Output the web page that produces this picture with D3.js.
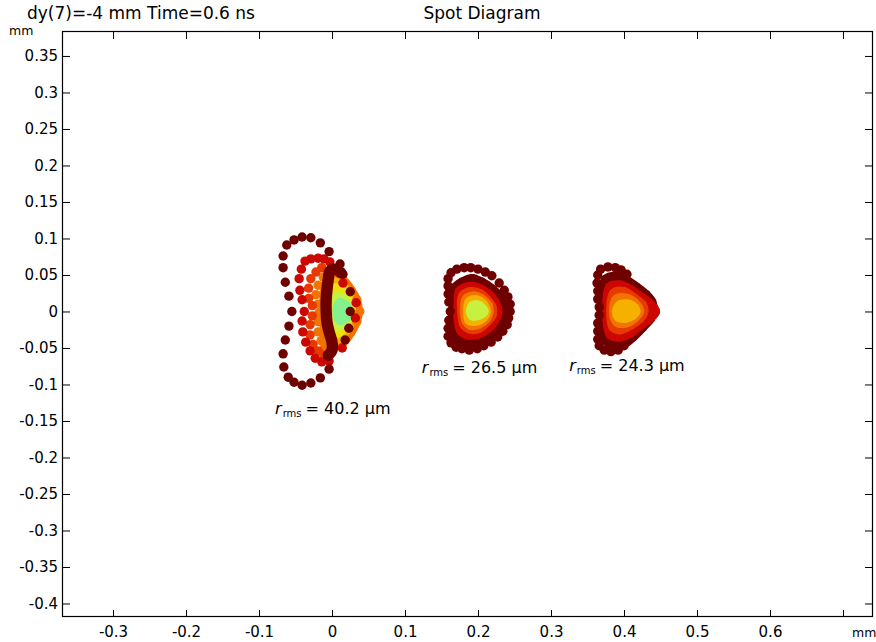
<!DOCTYPE html>
<html>
<head>
<meta charset="utf-8">
<script src="https://cdn.jsdelivr.net/npm/d3@7"></script>
<style>
  body { margin: 0; background: #fff; }
  text { font-family: "DejaVu Sans", sans-serif; fill: #000; }
</style>
</head>
<body>
<svg id="chart" width="876" height="642"></svg>
<script>
// Axis ticks (mm)
const xTicks = [-0.3, -0.2, -0.1, 0, 0.1, 0.2, 0.3, 0.4, 0.5, 0.6, 0.7];
const xTickLabels = ["-0.3", "-0.2", "-0.1", "0", "0.1", "0.2", "0.3", "0.4", "0.5", "0.6", ""];
const yTicks = [0.35, 0.3, 0.25, 0.2, 0.15, 0.1, 0.05, 0, -0.05, -0.1, -0.15, -0.2, -0.25, -0.3, -0.35, -0.4];
const yTickLabels = ["0.35", "0.3", "0.25", "0.2", "0.15", "0.1", "0.05", "0", "-0.05", "-0.1", "-0.15", "-0.2", "-0.25", "-0.3", "-0.35", "-0.4"];

// Spot 1 (dy = -4 mm, field 1) -- ray hits [x, y] in mm
const spot1Ring0 = [[-0.004,0.082],[-0.016,0.094],[-0.029,0.101],[-0.041,0.102],[-0.052,0.098],[-0.062,0.091],[-0.067,0.076],[-0.067,0.060],[-0.064,0.040],[-0.059,0.021],[-0.055,0.000],[-0.059,-0.020],[-0.064,-0.039],[-0.067,-0.058],[-0.066,-0.076],[-0.060,-0.090],[-0.052,-0.097],[-0.041,-0.101],[-0.029,-0.098],[-0.016,-0.091],[-0.004,-0.079],
  [0.011,0.065],[0.015,0.051],[0.025,0.027],[0.025,0.000],[0.023,-0.023],[0.018,-0.039]];
const spot1Ring1 = [[-0.003,0.068],[-0.011,0.072],[-0.019,0.073],[-0.029,0.072],[-0.037,0.069],[-0.042,0.058],[-0.045,0.045],[-0.044,0.029],[-0.041,0.016],[-0.038,0.000],[-0.041,-0.013],[-0.040,-0.028],[-0.036,-0.042],[-0.030,-0.054],[-0.023,-0.064],[-0.014,-0.069],[-0.004,-0.068],
  [0.033,0.012],[0.032,-0.009],[0.014,-0.050],[0.015,0.039]];
const spot1Ring2 = [[-0.014,0.060],[-0.022,0.054],[-0.029,0.045],[-0.032,0.032],[-0.032,0.018],[-0.027,0.008],[-0.027,-0.006],[-0.030,-0.018],[-0.030,-0.032],[-0.026,-0.045],[-0.019,-0.054],[-0.011,-0.060]];
const spot1Ring3 = [[-0.012,0.047],[-0.019,0.036],[-0.022,0.023],[-0.019,0.010],[-0.018,-0.002],[-0.019,-0.014],[-0.019,-0.028],[-0.015,-0.040],[-0.010,-0.049],
  [0.034,0.016],[0.038,0.000],[0.034,-0.014]];
const spot1Caustic = [[0.012,0.053],[0.004,0.058],[-0.003,0.055],[-0.005,0.045],[-0.007,0.029],[-0.008,0.016],[-0.008,0.000],[-0.007,-0.014],[-0.004,-0.028],[0.000,-0.042],[0.000,-0.053],[-0.005,-0.060]];
const spot1Core3 = [[0.003,0.049],[0.015,0.043],[0.026,0.029],[0.033,0.016],[0.036,0.000],[0.033,-0.014],[0.026,-0.028],[0.015,-0.042],[0.003,-0.047],[-0.008,-0.036],[-0.011,0.000],[-0.008,0.038]];
const spot1Core4 = [[0.003,0.040],[0.014,0.035],[0.023,0.023],[0.029,0.000],[0.023,-0.020],[0.014,-0.032],[0.003,-0.039],[-0.004,-0.012],[-0.004,0.013]];
const spot1Core5 = [[0.005,0.032],[0.016,0.025],[0.025,0.012],[0.026,0.000],[0.023,-0.012],[0.015,-0.024],[0.005,-0.030],[0.000,-0.012],[0.000,0.013]];
const spot1Core6 = [[0.007,0.021],[0.018,0.016],[0.023,0.000],[0.018,-0.014],[0.007,-0.020],[0.003,0.000]];
const spot1Core7 = [[0.011,0.012],[0.019,0.008],[0.022,0.000],[0.019,-0.008],[0.011,-0.012],[0.007,0.000]];

// Spot 2 (field 2)
const spot2Ring0 = [[0.163,0.053],[0.171,0.058],[0.181,0.060],[0.190,0.060],[0.200,0.058],[0.210,0.054],[0.219,0.049],[0.229,0.039],[0.236,0.029],[0.241,0.020],[0.244,0.010],[0.244,0.000],[0.242,-0.009],[0.240,-0.018],[0.234,-0.027],[0.227,-0.035],[0.218,-0.042],[0.208,-0.047],[0.199,-0.051],[0.188,-0.053],[0.178,-0.051],[0.170,-0.049],[0.163,-0.043],[0.159,-0.034],[0.159,-0.023],[0.160,-0.012],[0.162,0.000],[0.160,0.013],[0.159,0.024],[0.159,0.035],[0.159,0.045]];
const spot2Core0 = [[0.168,0.032],[0.178,0.040],[0.192,0.045],[0.205,0.040],[0.219,0.031],[0.230,0.020],[0.237,0.009],[0.238,0.000],[0.234,-0.013],[0.226,-0.025],[0.214,-0.035],[0.200,-0.042],[0.185,-0.043],[0.173,-0.038],[0.167,-0.027],[0.166,-0.009],[0.166,0.010],[0.166,0.024]];
const spot2Core1 = [[0.175,0.028],[0.188,0.034],[0.201,0.032],[0.214,0.024],[0.223,0.013],[0.227,0.000],[0.223,-0.012],[0.214,-0.023],[0.200,-0.031],[0.186,-0.032],[0.177,-0.027],[0.173,-0.012],[0.173,0.013]];
const spot2Core2 = [[0.179,0.021],[0.190,0.027],[0.203,0.024],[0.212,0.016],[0.219,0.006],[0.219,-0.005],[0.212,-0.014],[0.201,-0.023],[0.189,-0.024],[0.181,-0.018],[0.178,0.000]];
const spot2Core3 = [[0.184,0.017],[0.195,0.021],[0.205,0.017],[0.214,0.008],[0.215,0.000],[0.211,-0.010],[0.201,-0.017],[0.190,-0.019],[0.184,-0.013],[0.182,0.000]];
const spot2Core4 = [[0.188,0.013],[0.197,0.016],[0.207,0.010],[0.211,0.000],[0.207,-0.008],[0.197,-0.013],[0.188,-0.012],[0.186,0.000]];
const spot2Core6 = [[0.193,0.008],[0.201,0.008],[0.208,0.000],[0.201,-0.005],[0.193,-0.006],[0.190,0.000]];

// Spot 3 (field 3)
const spot3Ring0 = [[0.368,0.058],[0.378,0.061],[0.388,0.060],[0.396,0.057],[0.404,0.051],
  [0.364,0.050],[0.363,0.039],[0.364,0.028],[0.364,0.017],[0.366,0.006],[0.366,-0.005],[0.364,-0.016],[0.364,-0.027],[0.364,-0.038],[0.366,-0.047],
  [0.373,-0.053],[0.382,-0.055],[0.392,-0.053],[0.400,-0.047]];
const spot3Core0 = [[0.375,0.044],[0.389,0.048],[0.403,0.043],[0.416,0.034],[0.430,0.023],[0.438,0.013],[0.440,0.000],[0.436,-0.010],[0.426,-0.021],[0.412,-0.035],[0.399,-0.045],[0.385,-0.046],[0.375,-0.039],[0.371,-0.024],[0.371,0.000],[0.371,0.029]];
const spot3Core1 = [[0.381,0.034],[0.395,0.036],[0.410,0.029],[0.423,0.020],[0.436,0.010],[0.443,0.000],[0.436,-0.009],[0.423,-0.018],[0.408,-0.030],[0.392,-0.035],[0.381,-0.031],[0.377,-0.012],[0.377,0.016]];
const spot3Core2 = [[0.386,0.025],[0.400,0.027],[0.414,0.018],[0.425,0.009],[0.427,0.000],[0.422,-0.009],[0.410,-0.018],[0.395,-0.025],[0.385,-0.021],[0.382,0.000]];
const spot3Core3 = [[0.390,0.017],[0.403,0.018],[0.414,0.012],[0.421,0.000],[0.414,-0.009],[0.401,-0.016],[0.390,-0.014],[0.386,0.000]];
const spot3Core4 = [[0.395,0.009],[0.405,0.010],[0.414,0.005],[0.416,0.000],[0.412,-0.005],[0.403,-0.009],[0.393,-0.008],[0.390,0.000]];

// RMS spot radius annotations
const rmsValues = ["40.2", "26.5", "24.3"];
const rmsLabelX = [-0.078, 0.123, 0.325];
const rmsLabelY = [-0.140, -0.084, -0.0815];

// Layout
const width = 876, height = 642;
const plot = {left: 62, right: 873, top: 31, bottom: 617};

const svg = d3.select("#chart");

const x = d3.scaleLinear().domain([-0.3699, 0.7411]).range([plot.left, plot.right]);
const y = d3.scaleLinear().domain([-0.4185, 0.3842]).range([plot.bottom, plot.top]);

// colour by pupil ring level, outer = dark red
const levelColors = ["#6e0000", "#cc0600", "#e63a00", "#f27400", "#f5b000", "#f0e010", "#c8f040", "#84f08e"];
const dotRadius = 4.7;

// drawing order inside the frame
const layers = [
  {pts: spot1Core3, level: 3, kind: "core"},
  {pts: spot1Core4, level: 4, kind: "core"},
  {pts: spot1Core5, level: 5, kind: "core"},
  {pts: spot1Core6, level: 6, kind: "core"},
  {pts: spot1Core7, level: 7, kind: "core"},
  {pts: spot1Ring3, level: 3, kind: "dots"},
  {pts: spot1Ring2, level: 2, kind: "dots"},
  {pts: spot1Ring1, level: 1, kind: "dots"},
  {pts: spot1Caustic, level: 0, kind: "band"},
  {pts: spot1Ring0, level: 0, kind: "dots"},
  {pts: spot2Core0, level: 0, kind: "core"},
  {pts: spot2Core1, level: 1, kind: "core"},
  {pts: spot2Core2, level: 2, kind: "core"},
  {pts: spot2Core3, level: 3, kind: "core"},
  {pts: spot2Core4, level: 4, kind: "core"},
  {pts: spot2Core6, level: 6, kind: "core"},
  {pts: spot2Ring0, level: 0, kind: "dots"},
  {pts: spot3Core0, level: 0, kind: "core"},
  {pts: spot3Core1, level: 1, kind: "core"},
  {pts: spot3Core2, level: 2, kind: "core"},
  {pts: spot3Core3, level: 3, kind: "core"},
  {pts: spot3Core4, level: 4, kind: "core"},
  {pts: spot3Ring0, level: 0, kind: "dots"}
];

const spots = svg.append("g");
const closedLine = d3.line().x(d => x(d[0])).y(d => y(d[1])).curve(d3.curveCatmullRomClosed);
const openLine = d3.line().x(d => x(d[0])).y(d => y(d[1])).curve(d3.curveCatmullRom);

layers.forEach(layer => {
  const col = levelColors[layer.level];
  const g = spots.append("g");
  if (layer.kind === "core") {
    // dense region of overlapping hits
    g.append("path")
      .attr("d", closedLine(layer.pts))
      .attr("fill", col)
      .attr("stroke", col)
      .attr("stroke-width", 2 * dotRadius)
      .attr("stroke-linejoin", "round");
  } else if (layer.kind === "band") {
    g.append("path")
      .attr("d", openLine(layer.pts))
      .attr("fill", "none")
      .attr("stroke", col)
      .attr("stroke-width", 2 * dotRadius + 2)
      .attr("stroke-linecap", "round");
  }
  g.selectAll("circle")
    .data(layer.pts)
    .enter()
    .append("circle")
    .attr("cx", d => x(d[0]))
    .attr("cy", d => y(d[1]))
    .attr("r", dotRadius)
    .attr("fill", col);
});

// Axes, ticks pointing inward
const fontSize = 15;
const bottomAxis = svg.append("g")
  .attr("transform", `translate(0,${plot.bottom})`)
  .call(d3.axisBottom(x).tickValues(xTicks).tickSize(-7).tickPadding(9.5)
    .tickFormat((d, i) => xTickLabels[i]));
const topAxis = svg.append("g")
  .attr("transform", `translate(0,${plot.top})`)
  .call(d3.axisTop(x).tickValues(xTicks).tickSize(-8).tickFormat(""));
const leftAxis = svg.append("g")
  .attr("transform", `translate(${plot.left},0)`)
  .call(d3.axisLeft(y).tickValues(yTicks).tickSize(-8).tickPadding(4)
    .tickFormat((d, i) => yTickLabels[i]));
const rightAxis = svg.append("g")
  .attr("transform", `translate(${plot.right},0)`)
  .call(d3.axisRight(y).tickValues(yTicks).tickSize(-8).tickFormat(""));

[bottomAxis, topAxis, leftAxis, rightAxis].forEach(a => {
  a.select(".domain").remove();
  a.selectAll("line").attr("stroke", "#000").attr("stroke-width", 1);
  a.attr("font-family", null).attr("font-size", null);
  a.selectAll("text").attr("font-size", fontSize).attr("fill", "#000");
});

// frame
svg.append("rect")
  .attr("x", plot.left + 0.5)
  .attr("y", plot.top + 0.5)
  .attr("width", plot.right - plot.left - 1)
  .attr("height", plot.bottom - plot.top - 1)
  .attr("fill", "none")
  .attr("stroke", "#000")
  .attr("stroke-width", 1.2);

// unit labels
svg.append("text").attr("x", 9).attr("y", 35).attr("font-size", 12.5).text("mm");
svg.append("text").attr("x", 852).attr("y", 637).attr("font-size", 12.5).text("mm");

// titles
svg.append("text").attr("x", 27).attr("y", 19).attr("font-size", 17)
  .text("dy(7)=-4 mm Time=0.6 ns");
svg.append("text").attr("x", 482).attr("y", 19).attr("font-size", 17)
  .attr("text-anchor", "middle").text("Spot Diagram");

// r_rms annotations
rmsValues.forEach((v, i) => {
  const t = svg.append("text")
    .attr("x", x(rmsLabelX[i]))
    .attr("y", y(rmsLabelY[i]))
    .attr("font-size", 16);
  t.append("tspan").attr("font-style", "italic").text("r");
  t.append("tspan").attr("font-size", 10).attr("dy", 3).attr("dx", 1).text("rms");
  t.append("tspan").attr("dy", -3).attr("dx", 4).text("= " + v + " \u03bcm");
});
</script>
</body>
</html>
